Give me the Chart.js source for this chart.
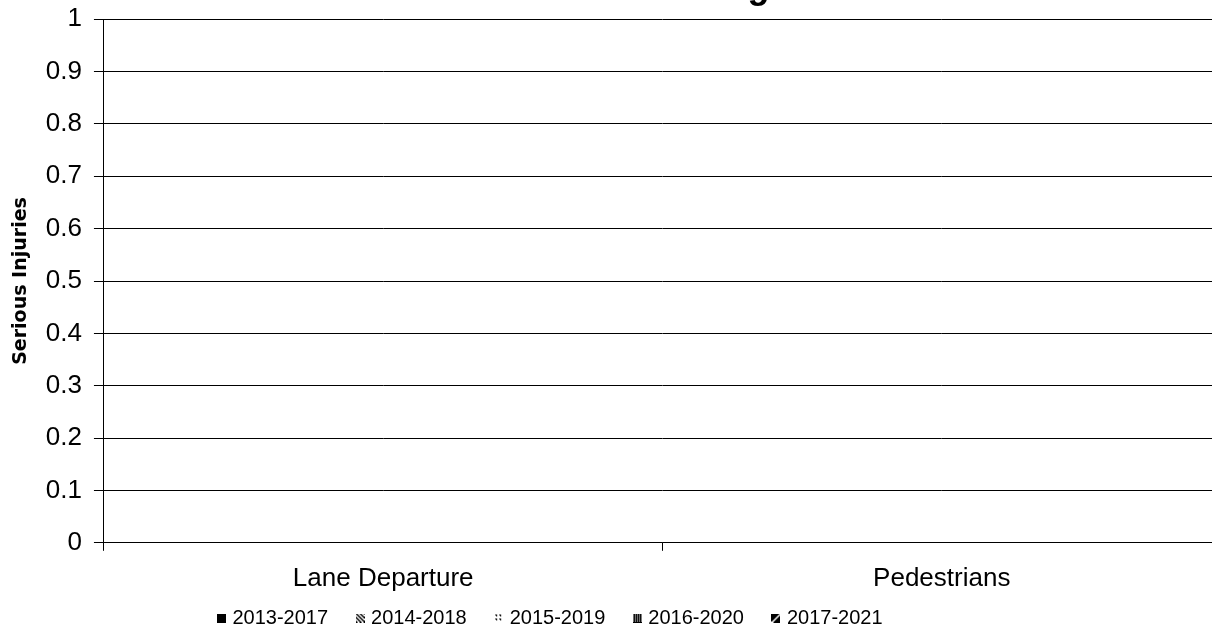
<!DOCTYPE html>
<html>
<head>
<meta charset="utf-8">
<script src="https://cdn.jsdelivr.net/npm/chart.js@4.4.1/dist/chart.umd.min.js"></script>
<style>
  html, body { margin: 0; padding: 0; background: #fff; overflow: hidden; width: 1212px; height: 642px; }
  #wrap { position: absolute; left: 0; top: -34px; width: 1235px; height: 701px; }
</style>
</head>
<body>
<div id="wrap"><canvas id="c"></canvas></div>
<script>
// ---- data ----
const chartTitle = "Distracted Driving";
const categories = ["Lane Departure", "Pedestrians"];
const seriesNames = ["2013-2017", "2014-2018", "2015-2019", "2016-2020", "2017-2021"];
const s2013_2017 = [0, 0];
const s2014_2018 = [0, 0];
const s2015_2019 = [0, 0];
const s2016_2020 = [0, 0];
const s2017_2021 = [0, 0];
const yTickLabels = ["0", "0.1", "0.2", "0.3", "0.4", "0.5", "0.6", "0.7", "0.8", "0.9", "1"];
const yAxisTitle = "Serious Injuries";

// ---- patterns ----
function tileCanvas(size, draw) {
  const c = document.createElement('canvas');
  c.width = size; c.height = size;
  const g = c.getContext('2d');
  g.fillStyle = '#fff'; g.fillRect(0, 0, size, size);
  g.fillStyle = '#000';
  draw(g, size);
  return c;
}
const tiles = [
  tileCanvas(2, (g) => { g.fillRect(0, 0, 2, 2); }),
  tileCanvas(4, (g) => { for (let i = 0; i < 4; i++) { g.fillRect(i, i, 1, 1); g.fillRect((i + 1) % 4, i, 1, 1); } }),
  tileCanvas(4, (g) => { g.fillRect(1, 1, 2, 1); g.fillRect(2, 2, 1, 1); }),
  tileCanvas(2, (g) => { g.fillRect(0, 0, 1, 1); g.fillRect(1, 1, 1, 1); g.fillRect(1, 0, 1, 1); }),
  tileCanvas(10, (g) => {
    g.fillRect(0, 0, 10, 10);
    g.fillStyle = '#fff';
    for (let i = 0; i < 10; i++) { g.fillRect(8 - i, i, 2, 1); }
  })
];
const pctx = document.createElement('canvas').getContext('2d');
const patterns = tiles.map(t => pctx.createPattern(t, 'repeat'));
const legendIcons = patterns.map(p => {
  const c = document.createElement('canvas');
  c.width = 9; c.height = 9;
  const g = c.getContext('2d');
  g.fillStyle = p; g.fillRect(0, 0, 9, 9);
  return c;
});
const seriesValues = [s2013_2017, s2014_2018, s2015_2019, s2016_2020, s2017_2021];

const legendShift = {
  id: 'legendShift',
  afterLayout(chart) {
    const l = chart.legend;
    if (l) { l.right -= 126; l.top -= 29; l.bottom -= 29; }
  }
};

const ctx = document.getElementById('c');
new Chart(ctx, {
  type: 'bar',
  data: {
    labels: categories,
    datasets: seriesNames.map((n, i) => ({
      label: n,
      data: seriesValues[i],
      backgroundColor: patterns[i],
      borderColor: '#000',
      borderWidth: 0
    }))
  },
  options: {
    responsive: true,
    maintainAspectRatio: false,
    animation: false,
    layout: { padding: { left: 8, right: 14, top: 0, bottom: 0 } },
    plugins: {
      title: {
        display: true,
        text: chartTitle,
        color: '#000',
        font: { family: '"Liberation Sans", Arial, sans-serif', size: 36, weight: 'bold', lineHeight: 1.2 },
        padding: { top: 0, bottom: 10 }
      },
      legend: {
        position: 'bottom',
        labels: {
          color: '#000',
          usePointStyle: true,
          boxWidth: 2,
          padding: 31,
          font: { family: '"Liberation Sans", Arial, sans-serif', size: 20 },
          generateLabels(chart) {
            const items = Chart.defaults.plugins.legend.labels.generateLabels(chart);
            items.forEach((it, i) => { it.pointStyle = legendIcons[i]; it.lineWidth = 0; });
            return items;
          }
        }
      },
      tooltip: { enabled: false }
    },
    scales: {
      x: {
        offset: true,
        grid: { display: true, drawOnChartArea: false, offset: true, tickLength: 8, color: '#000', lineWidth: 1 },
        border: { display: true, color: '#000', width: 1 },
        ticks: {
          color: '#000',
          padding: 12,
          font: { family: '"Liberation Sans", Arial, sans-serif', size: 26 }
        }
      },
      y: {
        min: 0,
        max: 1,
        ticks: {
          stepSize: 0.1,
          color: '#000',
          padding: 12,
          font: { family: '"Liberation Sans", Arial, sans-serif', size: 26 },
          callback: (v, i) => yTickLabels[i]
        },
        grid: { color: '#000', lineWidth: 1, tickLength: 10 },
        border: { display: true, color: '#000', width: 1 },
        title: {
          display: true,
          text: yAxisTitle,
          color: '#000',
          font: { family: '"DejaVu Sans", sans-serif', size: 19, weight: 'bold', lineHeight: 1.2 },
          padding: { top: 2, bottom: 1 }
        }
      }
    }
  },
  plugins: [legendShift]
});
</script>
</body>
</html>
